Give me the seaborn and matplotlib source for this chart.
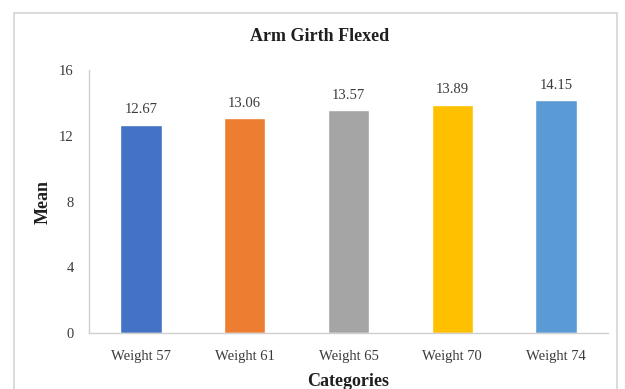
import matplotlib
matplotlib.use("Agg")
import matplotlib.pyplot as plt
from matplotlib.patches import Rectangle
import seaborn as sns
import pandas as pd

# Chart data
categories = ["Weight 57", "Weight 61", "Weight 65", "Weight 70", "Weight 74"]
means = [12.67, 13.06, 13.57, 13.89, 14.15]
bar_colors = ["#4472C4", "#ED7D31", "#A5A5A5", "#FFC000", "#5B9BD5"]
y_ticks = [0, 4, 8, 12, 16]

sns.set_theme(style="white")
plt.rcParams["font.family"] = ["Liberation Serif", "DejaVu Serif"]

df = pd.DataFrame({"Category": categories, "Mean": means})

fig = plt.figure(figsize=(6.25, 3.89), dpi=100)
ax = fig.add_axes([0.1424, 0.144, 0.8304, 0.676])

sns.barplot(data=df, x="Category", y="Mean", hue="Category",
            palette=bar_colors, width=0.4, legend=False, ax=ax,
            saturation=1)

for container in ax.containers:
    ax.bar_label(container, labels=[f"{v:.2f}" for v in container.datavalues],
                 padding=6, fontsize=10.5, color="#3a3a3a")

ax.set_ylim(0, 16)
ax.set_yticks(y_ticks)
ax.set_xlim(-0.5, len(categories) - 0.5)

ax.tick_params(axis="both", length=0, labelsize=10.5, labelcolor="#3a3a3a")
ax.tick_params(axis="y", pad=11)
ax.tick_params(axis="x", pad=12)

for side in ["top", "right"]:
    ax.spines[side].set_visible(False)
for side in ["left", "bottom"]:
    ax.spines[side].set_color("#D0D0D0")
    ax.spines[side].set_linewidth(1.0)

ax.set_xlabel("")
ax.set_ylabel("")

fig.text(0.512, 0.905, "Arm Girth Flexed", ha="center", va="center",
         fontsize=13, fontweight="bold", color="#1f1f1f")
fig.text(0.069, 0.482, "Mean", ha="center", va="center", rotation=90,
         fontsize=13, fontweight="bold", color="#1f1f1f")
fig.text(0.557, 0.02, "Categories", ha="center", va="center",
         fontsize=13, fontweight="bold", color="#1f1f1f")

# Light chart-area frame
fig.patches.append(Rectangle((14 / 625, -0.05), (617 - 14) / 625, 1.05 - 13 / 389,
                             transform=fig.transFigure, fill=False,
                             edgecolor="#D4D4D4", linewidth=1.2))

fig.savefig("out.png", dpi=100, facecolor="white")
